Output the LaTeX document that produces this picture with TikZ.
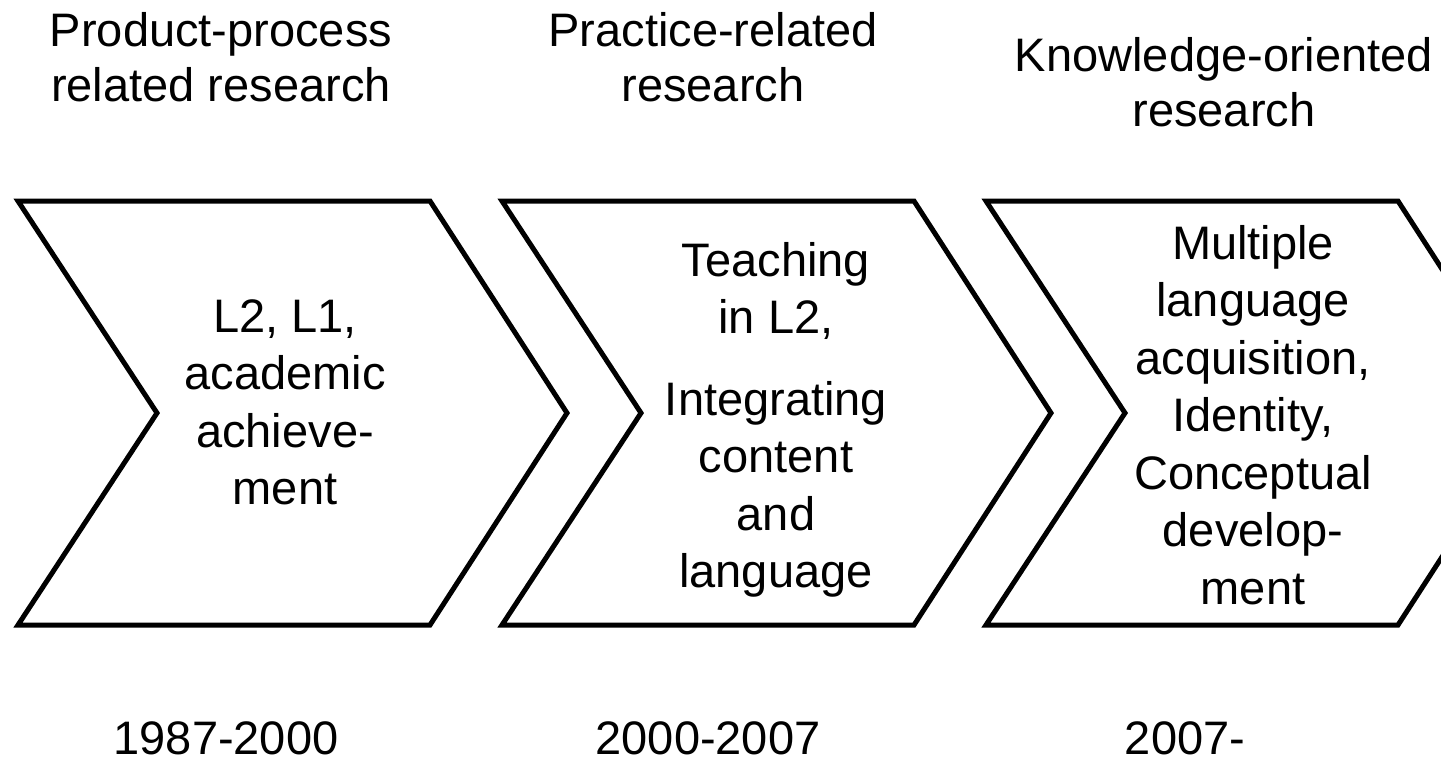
\documentclass[tikz,border=0pt]{standalone}
\usepackage{fontspec}
\setmainfont{Liberation Sans}
\begin{document}
\begin{tikzpicture}[x=1pt,y=-1pt,
  chevron/.style={draw=black,line width=5pt,line join=miter},
  boxtext/.style={align=center,inner sep=0pt,anchor=north,font=\fontsize{47}{57.5}\selectfont},
  headtext/.style={align=center,inner sep=0pt,anchor=north,font=\fontsize{47}{55}\selectfont},
  yeartext/.style={inner sep=0pt,anchor=base,font=\fontsize{47}{55}\selectfont}]
\useasboundingbox[fill=white] (0,0) rectangle (1441,761);
\begin{scope}
\clip (0,0) rectangle (1441,761);
\draw[chevron] (18,201) -- (430,201) -- (567,413) -- (430,625) -- (18,625) -- (157,413) -- cycle;
\draw[chevron] (502,201) -- (914,201) -- (1051,413) -- (914,625) -- (502,625) -- (641,413) -- cycle;
\draw[chevron] (986,201) -- (1398,201) -- (1535,413) -- (1398,625) -- (986,625) -- (1125,413) -- cycle;
\end{scope}
\node[boxtext] (t1) at (285,299) {L2, L1,\\academic\\achieve-\\ment};
\node[boxtext] (t2) at (776,242) {Teaching\\in L2,\\[24pt]Integrating\\content\\and\\language};
\node[boxtext] (t3) at (1253,225) {Multiple\\language\\acquisition,\\Identity,\\Conceptual\\develop-\\ment};
\node[headtext] (h1) at (221,12) {Product-process\\related research};
\node[headtext] (h2) at (713,12) {Practice-related\\research};
\node[headtext] (h3) at (1224,37) {Knowledge-oriented\\research};
\node[yeartext] (y1) at (226,754) {1987-2000};
\node[yeartext] (y2) at (708,754) {2000-2007};
\node[yeartext] (y3) at (1185,754) {2007-};
\end{tikzpicture}
\end{document}
